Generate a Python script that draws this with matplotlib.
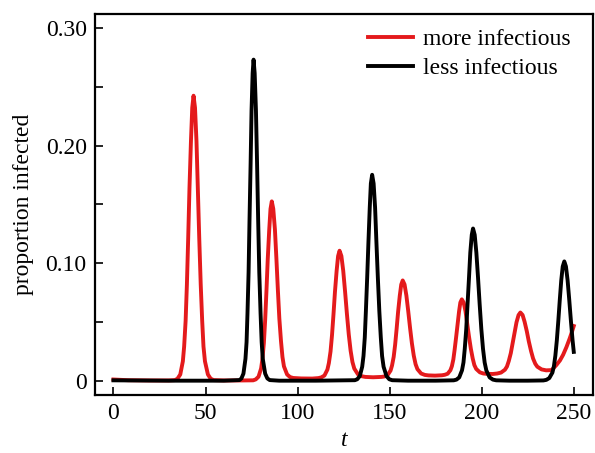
import matplotlib
matplotlib.use("Agg")
import matplotlib.pyplot as plt
from matplotlib.ticker import FixedLocator, FixedFormatter

# Verdier lest av fra figuren
red_t = [0, 8, 20, 30, 33.4, 34.8, 36.3, 37.7, 38.4, 39.2, 39.9, 40.6, 41.3, 42.1, 42.8,
         43.5, 44.3, 45.1, 45.8, 46.6, 47.4, 48.2, 48.9, 49.7, 51.3, 52.8, 54.4, 60, 70,
         75.9, 77.3, 78.8, 80.2, 80.9, 81.7, 82.4, 83.1, 83.8, 84.6, 85.3, 86.0, 86.8, 87.7,
         88.5, 89.3, 90.1, 91.0, 91.8, 92.6, 94.3, 95.9, 97.6, 102, 108,
         111.3, 112.9, 114.6, 116.2, 117.0, 117.9, 118.7, 119.5, 120.3, 121.2, 122.0, 122.8,
         123.8, 124.8, 125.8, 126.8, 127.8, 128.8, 129.8, 130.8, 132.8, 134.8, 136.8, 141,
         145.6, 147.2, 148.9, 150.5, 151.3, 152.2, 153.0, 153.8, 154.6, 155.5, 156.3, 157.1,
         158.1, 159.1, 160.1, 161.1, 162.1, 163.1, 164.1, 165.1, 167.1, 169.1, 171.1, 174.6,
         178.4, 179.9, 181.5, 183.0, 183.8, 184.6, 185.3, 186.1, 186.9, 187.7, 188.4, 189.2,
         190.2, 191.2, 192.1, 193.1, 194.1, 195.1, 196.0, 197.0, 199.0, 200.9, 202.9, 206,
         208.4, 210.5, 212.6, 213.7, 214.7, 215.8, 216.8, 217.9, 218.9, 220.0, 221.0,
         222.2, 223.3, 224.5, 225.6, 226.8, 227.9, 229.1, 230.2, 232.5, 235, 238,
         240.6, 242.5, 244.2, 246, 247.8, 249, 250]
red_y = [0.0010, 0.0004, 0.0002, 0.0002, 0.0005, 0.0017, 0.0053, 0.0165, 0.0291, 0.0509, 0.0820,
         0.1213, 0.1642, 0.2039, 0.2323, 0.2425, 0.2323, 0.2039, 0.1642, 0.1213, 0.0820, 0.0509,
         0.0291, 0.0165, 0.0053, 0.0017, 0.0005, 0.0002, 0.0002,
         0.0003, 0.0011, 0.0034, 0.0104, 0.0183, 0.0320, 0.0516, 0.0763, 0.1033, 0.1283, 0.1462,
         0.1526, 0.1463, 0.1287, 0.1040, 0.0773, 0.0529, 0.0336, 0.0201, 0.0122, 0.0053, 0.0031,
         0.0023, 0.0019, 0.0018,
         0.0022, 0.0028, 0.0044, 0.0094, 0.0150, 0.0248, 0.0387, 0.0563, 0.0755, 0.0933, 0.1060,
         0.1106, 0.1061, 0.0935, 0.0758, 0.0568, 0.0394, 0.0256, 0.0159, 0.0103, 0.0054, 0.0038,
         0.0032, 0.0029,
         0.0032, 0.0036, 0.0048, 0.0086, 0.0129, 0.0203, 0.0308, 0.0442, 0.0587, 0.0722, 0.0818,
         0.0853, 0.0819, 0.0724, 0.0591, 0.0448, 0.0317, 0.0213, 0.0140, 0.0098, 0.0061, 0.0049,
         0.0045, 0.0043,
         0.0046, 0.0050, 0.0059, 0.0089, 0.0123, 0.0181, 0.0264, 0.0369, 0.0483, 0.0589, 0.0665,
         0.0692, 0.0665, 0.0591, 0.0487, 0.0375, 0.0272, 0.0190, 0.0133, 0.0100, 0.0071, 0.0061,
         0.0058, 0.0057,
         0.0061, 0.0069, 0.0093, 0.0120, 0.0167, 0.0234, 0.0319, 0.0411, 0.0497, 0.0558, 0.0580,
         0.0559, 0.0501, 0.0420, 0.0333, 0.0252, 0.0189, 0.0144, 0.0119, 0.0096, 0.0088, 0.0090,
         0.0134, 0.0172, 0.0220, 0.0285, 0.0360, 0.0415, 0.0465]

black_t = [0, 30, 60, 68.4, 69.5, 70.6, 71.7, 72.3, 72.8, 73.4, 73.9, 74.5, 75.0, 75.6, 76.1,
           76.7, 77.4, 78.0, 78.6, 79.2, 79.9, 80.5, 81.1, 82.4, 83.6, 84.9, 90, 110,
           131.1, 132.4, 133.8, 135.1, 135.8, 136.5, 137.1, 137.8, 138.5, 139.2, 139.8, 140.5,
           141.3, 142.1, 142.8, 143.6, 144.4, 145.2, 145.9, 146.7, 148.3, 149.8, 151.4, 160, 175,
           184.8, 186.3, 187.8, 189.3, 190.1, 190.8, 191.6, 192.3, 193.1, 193.8, 194.6, 195.3,
           196.2, 197.1, 198.0, 198.9, 199.8, 200.7, 201.6, 202.5, 204.3, 206.1, 207.9, 215, 225,
           233.5, 235.1, 236.7, 238.4, 239.2, 240.0, 240.8, 241.6, 242.4, 243.2, 244.0, 244.85,
           245.75, 246.65, 247.55, 248.45, 249.35, 250]
black_y = [0.0003, 0, 0, 0.0005, 0.0019, 0.0060, 0.0186, 0.0328, 0.0574, 0.0923, 0.1366, 0.1850,
           0.2298, 0.2617, 0.2732, 0.2617, 0.2298, 0.1850, 0.1366, 0.0923, 0.0574, 0.0328, 0.0186,
           0.0060, 0.0019, 0.0005, 0, 0,
           0.0004, 0.0012, 0.0039, 0.0119, 0.0210, 0.0368, 0.0592, 0.0876, 0.1186, 0.1473, 0.1678,
           0.1752, 0.1678, 0.1473, 0.1186, 0.0876, 0.0592, 0.0368, 0.0210, 0.0119, 0.0039, 0.0012,
           0.0004, 0, 0,
           0.0003, 0.0009, 0.0028, 0.0088, 0.0155, 0.0272, 0.0438, 0.0648, 0.0877, 0.1089, 0.1241,
           0.1295, 0.1241, 0.1089, 0.0877, 0.0648, 0.0438, 0.0272, 0.0155, 0.0088, 0.0028, 0.0009,
           0.0003, 0, 0,
           0.0002, 0.0007, 0.0022, 0.0069, 0.0122, 0.0213, 0.0343, 0.0508, 0.0687, 0.0854, 0.0972,
           0.1015, 0.0972, 0.0854, 0.0687, 0.0508, 0.0343, 0.0245]

x_ticks = [0, 50, 100, 150, 200, 250]
y_ticks = [0, 0.05, 0.10, 0.15, 0.20, 0.25, 0.30]
y_labels = ["0", "", "0.10", "", "0.20", "", "0.30"]

plt.rcParams["font.family"] = ["Liberation Serif", "DejaVu Serif"]

fig = plt.figure(figsize=(5.95, 4.53), dpi=100)
ax = fig.add_axes([0.1597, 0.128, 0.8365, 0.841])

ax.plot(red_t, red_y, color="#e41a1c", lw=2.8, label="more infectious")
ax.plot(black_t, black_y, color="black", lw=2.8, label="less infectious")

ax.set_xlim(-10, 260.3)
ax.set_ylim(-0.0122, 0.312)

ax.xaxis.set_major_locator(FixedLocator(x_ticks))
ax.yaxis.set_major_locator(FixedLocator(y_ticks))
ax.yaxis.set_major_formatter(FixedFormatter(y_labels))
ax.tick_params(direction="in", length=5.5, width=1.2, labelsize=17, pad=6,
               top=False, right=False)

for s in ax.spines.values():
    s.set_linewidth(1.6)

ax.set_xlabel("t", fontsize=17, style="italic", labelpad=4)
ax.set_ylabel("proportion infected", fontsize=17, labelpad=8)

ax.legend(loc="upper right", bbox_to_anchor=(0.988, 1.006), frameon=False, fontsize=17,
          handlelength=1.9, handletextpad=0.4, labelspacing=0.32, borderaxespad=0.3)

fig.savefig("out.png", dpi=100)
